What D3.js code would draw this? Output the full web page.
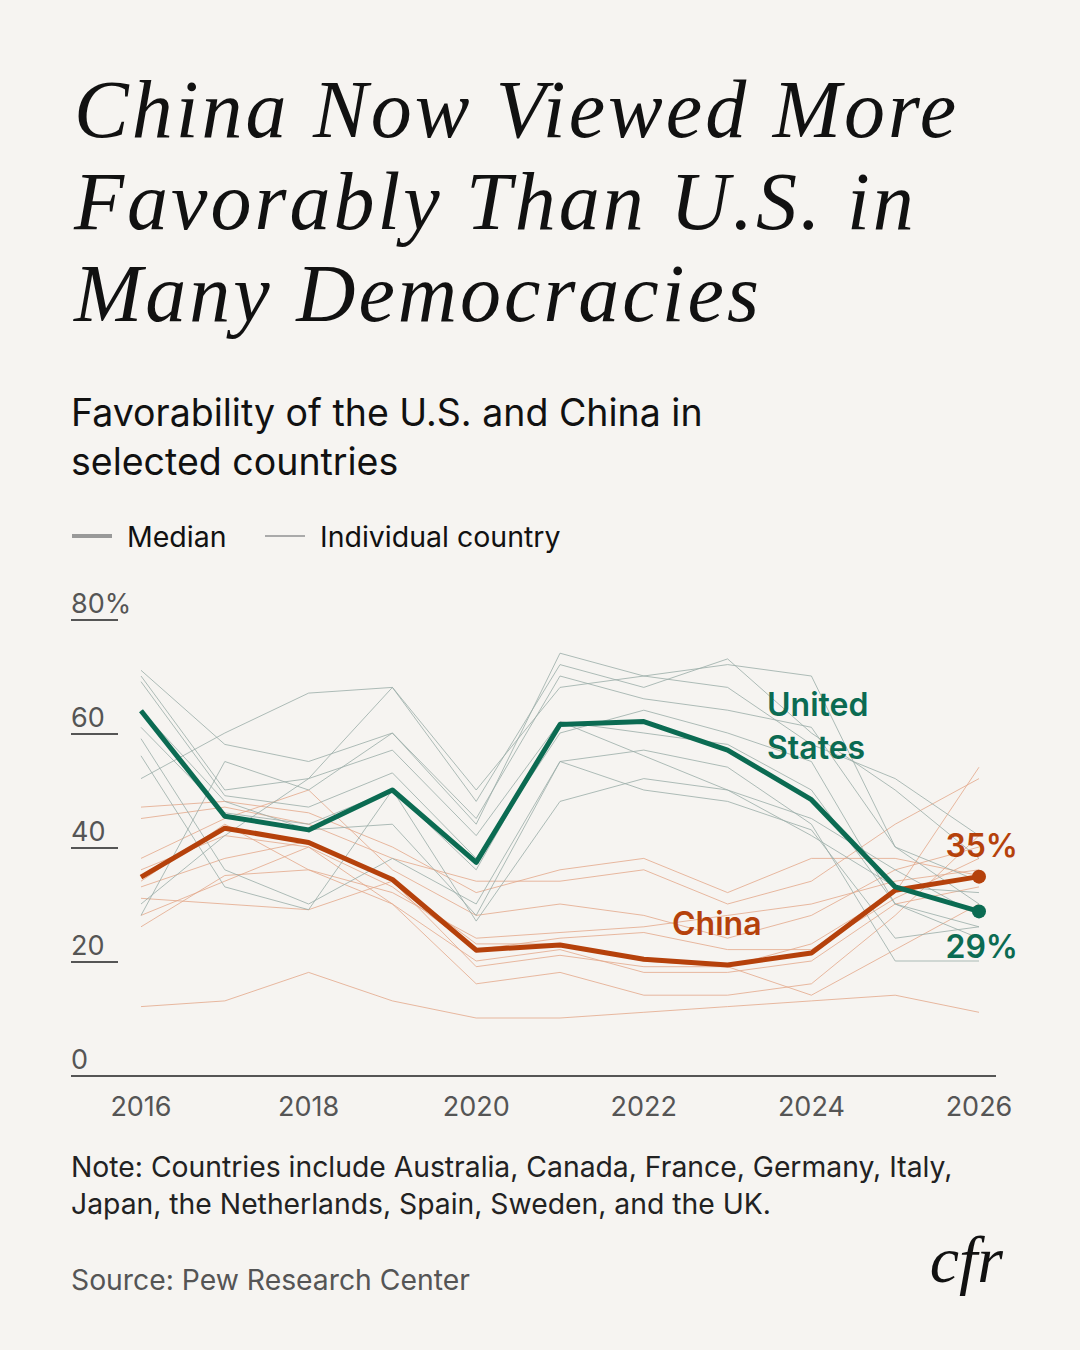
<!DOCTYPE html>
<html><head><meta charset="utf-8">
<script src="https://cdn.jsdelivr.net/npm/d3@7"></script>
<style>body{margin:0;background:#f6f4f1;}svg{display:block}</style>
</head><body><svg id="c" width="1080" height="1350"></svg>
<script>
const years=[2016,2017,2018,2019,2020,2021,2022,2023,2024,2025,2026];
const usMedian=[63.9,45.4,43,50,37.3,61.5,62,57,48.3,33,28.7];
const chinaMedian=[34.7,43.3,40.8,34.3,21.9,22.8,20.3,19.3,21.4,32.4,34.8];
const usCountries=[
[71,58,55,60,44,74,70,72,70,40,30],
[70,50,52,68,48,72,68,73,60,50,38],
[69,49,47,53,38,60,64,60,55,30,26],
[61,46,44,50,36,62,60,58,50,30,24],
[59,36,30,38,30,55,57,54,44,20,20],
[56,33,29,50,27,48,52,50,45,36,28],
[52,60,67,68,50,68,70,68,58,52,42],
[28,55,50,60,45,70,66,64,61,40,34],
[30,42,52,57,42,62,56,50,42,33,32],
[64,48,43,44,28,55,50,48,43,24,26]];
const chinaCountries=[
[47,48,46,40,32,36,38,32,38,38,35],
[45,47,44,38,34,34,36,30,34,44,52],
[38,45,50,36,28,30,28,24,28,36,40],
[36,42,40,33,22,24,25,22,22,31,38],
[34,44,36,32,24,25,26,28,30,34,36],
[26,35,36,30,20,22,18,18,20,30,33],
[12,13,18,13,10,10,11,12,13,14,11],
[31,30,29,34,19,21,19,19,14,22,30],
[28,34,40,30,16,18,14,14,16,28,42],
[33,38,41,34,23,23,20,19,23,32,54]];
const yTicks=[0,20,40,60,80];
const xTicks=[2016,2018,2020,2022,2024,2026];
const titleLines=["China Now Viewed More","Favorably Than U.S. in","Many Democracies"];
const subtitleLines=["Favorability of the U.S. and China in","selected countries"];
const noteLines=["Note: Countries include Australia, Canada, France, Germany, Italy,","Japan, the Netherlands, Spain, Sweden, and the UK."];

const svg=d3.select("#c");
const sans="Inter, 'Noto Sans', sans-serif";
const green="#0b6b52", orange="#b5410b", grey="#555";
svg.append("rect").attr("width",1080).attr("height",1350).attr("fill","#f6f4f1");
titleLines.forEach((t,i)=>svg.append("text").attr("x",74).attr("y",137+i*92).text(t)
 .attr("font-family","'Liberation Serif',serif").attr("font-style","italic").attr("font-size",82).attr("letter-spacing",3).attr("fill","#111"));
subtitleLines.forEach((t,i)=>svg.append("text").attr("x",71).attr("y",426+i*49).text(t)
 .attr("font-family",sans).attr("font-size",37.5).attr("fill","#111"));
const lg=svg.append("g").attr("font-family",sans).attr("font-size",28.5).attr("fill","#111");
lg.append("line").attr("x1",72).attr("x2",112).attr("y1",536).attr("y2",536).attr("stroke","#999").attr("stroke-width",4);
lg.append("text").attr("x",127).attr("y",547).text("Median");
lg.append("line").attr("x1",265).attr("x2",305).attr("y1",536).attr("y2",536).attr("stroke","#aaa").attr("stroke-width",2);
lg.append("text").attr("x",320).attr("y",547).text("Individual country");

const x=d3.scaleLinear().domain([2016,2026]).range([141,979]);
const y=d3.scaleLinear().domain([0,80]).range([1075,619]);
const line=d3.line().x((d,i)=>x(years[i])).y(d=>y(d));

yTicks.forEach(v=>{
 svg.append("text").attr("x",71).attr("y",y(v)-6).text(v===80?"80%":v).attr("font-family",sans).attr("font-size",27).attr("fill",grey);
 if(v>0) svg.append("line").attr("x1",71).attr("x2",118).attr("y1",y(v)+1).attr("y2",y(v)+1).attr("stroke",grey).attr("stroke-width",2);
});
svg.append("line").attr("x1",71).attr("x2",996).attr("y1",1076).attr("y2",1076).attr("stroke","#555").attr("stroke-width",2);
xTicks.forEach(t=>svg.append("text").attr("x",x(t)).attr("y",1116).attr("text-anchor","middle").text(t)
 .attr("font-family",sans).attr("font-size",27).attr("fill",grey));

chinaCountries.forEach(d=>svg.append("path").attr("d",line(d)).attr("fill","none").attr("stroke","#e3a88a").attr("stroke-width",1).attr("opacity",0.8));
usCountries.forEach(d=>svg.append("path").attr("d",line(d)).attr("fill","none").attr("stroke","#9aaca7").attr("stroke-width",1).attr("opacity",0.8));
svg.append("path").attr("d",line(chinaMedian)).attr("fill","none").attr("stroke",orange).attr("stroke-width",5).attr("stroke-linejoin","round");
svg.append("path").attr("d",line(usMedian)).attr("fill","none").attr("stroke",green).attr("stroke-width",5).attr("stroke-linejoin","round");
svg.append("circle").attr("cx",x(2026)).attr("cy",y(chinaMedian[10])).attr("r",7).attr("fill",orange);
svg.append("circle").attr("cx",x(2026)).attr("cy",y(usMedian[10])).attr("r",7).attr("fill",green);

const lab=(t,xx,yy,c,a)=>svg.append("text").attr("x",xx).attr("y",yy).text(t).attr("text-anchor",a||"start")
 .attr("font-family",sans).attr("font-weight",600).attr("font-size",32).attr("fill",c);
lab("United",767,716,green); lab("States",767,759,green);
lab("China",672,935,orange);
lab("35%",1018,857,orange,"end"); lab("29%",1018,958,green,"end");

noteLines.forEach((t,i)=>svg.append("text").attr("x",71).attr("y",1177+i*37).text(t)
 .attr("font-family",sans).attr("font-size",28.3).attr("fill","#222"));
svg.append("text").attr("x",71).attr("y",1290).text("Source: Pew Research Center").attr("font-family",sans).attr("font-size",28.3).attr("fill",grey);
svg.append("text").attr("x",1003).attr("y",1282).attr("text-anchor","end").text("cfr")
 .attr("font-family","'Liberation Serif',serif").attr("font-style","italic").attr("font-size",66).attr("fill","#111");
</script></body></html>
